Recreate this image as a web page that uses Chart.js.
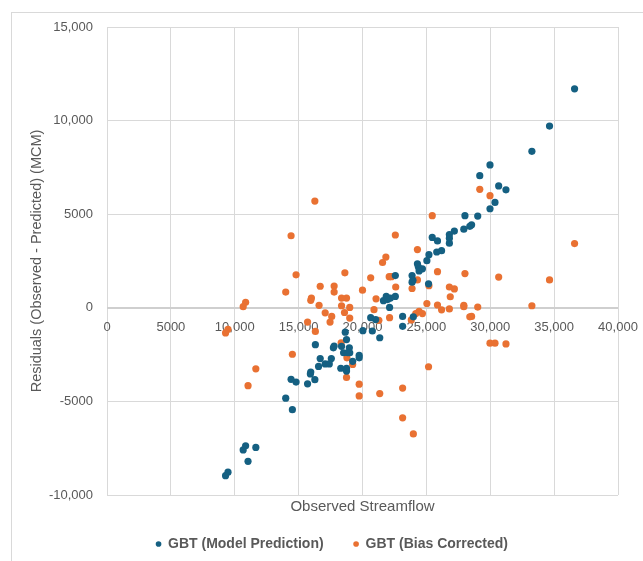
<!DOCTYPE html>
<html>
<head>
<meta charset="utf-8">
<script src="https://cdn.jsdelivr.net/npm/chart.js@4.4.1/dist/chart.umd.min.js"></script>
<style>
  html, body { margin: 0; padding: 0; background: #ffffff; overflow: hidden; }
  #frame { position: absolute; left: 11px; top: 12px; width: 700px; height: 600px; border: 1px solid #d9d9d9; box-sizing: border-box; }
  #chart { position: absolute; left: 0; top: 0; }
</style>
</head>
<body>
<div id="frame"></div>
<canvas id="chart" width="643" height="561"></canvas>
<script>
// Observed streamflow (x) and residuals (observed - predicted, MCM) for each series
const modelObserved = [
  36600, 34640, 33260, 29980, 29180, 30660, 31230, 30370, 29980, 28020,
  29020, 28540, 28400, 27930, 27190, 26800, 26800, 26800, 25460, 25870,
  26190, 25810, 25200, 25040, 24300, 24370, 24690, 24430, 23880, 22570,
  23950, 23880, 25170, 22570, 21860, 22180, 21640, 21960, 22120, 23140,
  23140, 23980, 20640, 21030, 20770, 20030, 21350, 18650, 18750, 16310,
  17720, 17780, 18360, 18970, 18520, 18840, 19000, 19740, 19740, 16690,
  17560, 19230, 17080, 17400, 16560, 18300, 18750, 18750, 15950, 15920,
  16270, 14410, 14800, 15700, 13990, 14510, 11650, 10850, 10660, 11040,
  9470, 9280
];
const modelResidual = [
  11700, 9710, 8360, 7630, 7060, 6510, 6300, 5630, 5290, 4920,
  4900, 4430, 4350, 4200, 4100, 3910, 3720, 3450, 3760, 3570,
  3050, 2980, 2840, 2520, 2350, 2190, 2080, 1970, 1720, 1720,
  1470, 1370, 1280, 610, 610, 520, 380, 440, 20, -460,
  -990, -480, -530, -630, -1240, -1220, -1600, -1300, -1700, -1970,
  -2140, -2040, -2060, -2140, -2400, -2400, -2400, -2540, -2670, -2710,
  -2710, -2860, -3000, -3000, -3130, -3230, -3240, -3380, -3430, -3530,
  -3840, -3820, -3970, -4060, -4830, -5440, -7460, -7370, -7590, -8200,
  -8780, -8970
];
const biasObserved = [
  36600, 34640, 33260, 29180, 29980, 30660, 29980, 30370, 31230, 29020,
  28020, 27930, 27930, 28540, 28400, 27190, 26800, 26870, 26800, 26190,
  25870, 25870, 25460, 25200, 25040, 25170, 24690, 24430, 24170, 24300,
  24300, 23880, 23820, 23980, 23140, 23140, 22570, 22600, 22090, 22270,
  21830, 21570, 22120, 21060, 20900, 21280, 21350, 20640, 20000, 19740,
  19740, 19230, 19000, 19000, 18750, 18360, 18620, 18590, 18360, 18330,
  18780, 18750, 17780, 17780, 17590, 17460, 17080, 16690, 16600, 16310,
  16270, 15950, 16000, 15700, 14800, 14410, 13990, 14510, 11650, 11040,
  10850, 10660, 9470, 9280
];
const biasResidual = [
  3430, 1490, 110, 6330, 5990, 1640, -1890, -1890, -1930, 40,
  1830, 130, 60, -460, -480, 1010, 1110, 590, -60, -110,
  150, 1930, 4920, 1180, 230, -3150, -310, -190, -310, 1490,
  3110, 1030, -650, -6740, -5880, -4290, 3890, 1110, 1660, 1660,
  2710, 2420, -530, 480, -100, -670, -4580, 1600, 940, -4080,
  -4710, -3030, -550, 20, 520, 520, 1870, -250, 110, -1870,
  -2670, -3720, 1160, 840, -460, -760, -270, 1150, 130, -1260,
  5700, 400, 520, -760, 1760, 3850, 840, -2480, -3260, -4160,
  290, 60, -1150, -1340
];
const seriesNames = ['GBT (Model Prediction)', 'GBT (Bias Corrected)'];
const xTitle = 'Observed Streamflow';
const yTitle = 'Residuals (Observed - Predicted) (MCM)';

const toPoints = (xs, ys) => xs.map((x, i) => ({ x: x, y: ys[i] }));

// Thousands separators only from five digits up
const fmt = (v) => Math.abs(v) >= 10000 ? v.toLocaleString('en-US') : String(v);

const FONT = "'Liberation Sans', Arial, sans-serif";
const TEXT = '#595959';
const GRID = '#d9d9d9';

new Chart(document.getElementById('chart'), {
  type: 'scatter',
  data: {
    datasets: [
      {
        label: seriesNames[0],
        data: toPoints(modelObserved, modelResidual),
        backgroundColor: '#156082',
        borderColor: '#156082',
        borderWidth: 0,
        pointRadius: 3.6,
        pointHoverRadius: 3.6
      },
      {
        label: seriesNames[1],
        data: toPoints(biasObserved, biasResidual),
        backgroundColor: '#e97132',
        borderColor: '#e97132',
        borderWidth: 0,
        pointRadius: 3.6,
        pointHoverRadius: 3.6
      }
    ]
  },
  options: {
    responsive: false,
    animation: false,
    devicePixelRatio: 1,
    layout: { padding: { left: 46, right: 25, top: 27, bottom: 0 } },
    plugins: {
      tooltip: { enabled: false },
      legend: {
        position: 'bottom',
        labels: {
          usePointStyle: true,
          pointStyle: 'circle',
          boxWidth: 5,
          boxHeight: 4,
          padding: 30,
          color: TEXT,
          font: { family: FONT, size: 14, weight: 'bold' }
        }
      }
    },
    scales: {
      // bottom axis: vertical gridlines and the axis title
      x: {
        type: 'linear',
        position: 'bottom',
        min: 0,
        max: 40000,
        ticks: { display: false, stepSize: 5000 },
        grid: { color: GRID, lineWidth: 1, drawTicks: false },
        border: { display: false },
        title: {
          display: true,
          text: xTitle,
          color: TEXT,
          font: { family: FONT, size: 15 },
          padding: { top: 0, bottom: -9 }
        },
        afterFit: (s) => { s.height = 12; }
      },
      // tick labels sit on the zero line
      xZero: {
        type: 'linear',
        position: { y: 0 },
        min: 0,
        max: 40000,
        ticks: {
          stepSize: 5000,
          padding: 12,
          color: TEXT,
          font: { family: FONT, size: 13 },
          maxRotation: 0,
          callback: (v) => fmt(v)
        },
        grid: { display: false, drawTicks: false },
        border: { display: false },
        afterFit: (s) => { s.paddingLeft = 0; s.paddingRight = 0; }
      },
      y: {
        type: 'linear',
        position: 'left',
        min: -10000,
        max: 15000,
        ticks: {
          stepSize: 5000,
          padding: 14,
          color: TEXT,
          font: { family: FONT, size: 13 },
          callback: (v) => fmt(v)
        },
        grid: {
          drawTicks: false,
          color: (c) => (c.tick && c.tick.value === 0) ? '#cfcfcf' : GRID,
          lineWidth: (c) => (c.tick && c.tick.value === 0) ? 2 : 1
        },
        border: { display: false },
        title: {
          display: true,
          text: yTitle,
          color: TEXT,
          font: { family: FONT, size: 14.5 },
          padding: { top: -18, bottom: 0 }
        },
        afterFit: (s) => { s.width = 61; }
      }
    }
  }
});
</script>
</body>
</html>
